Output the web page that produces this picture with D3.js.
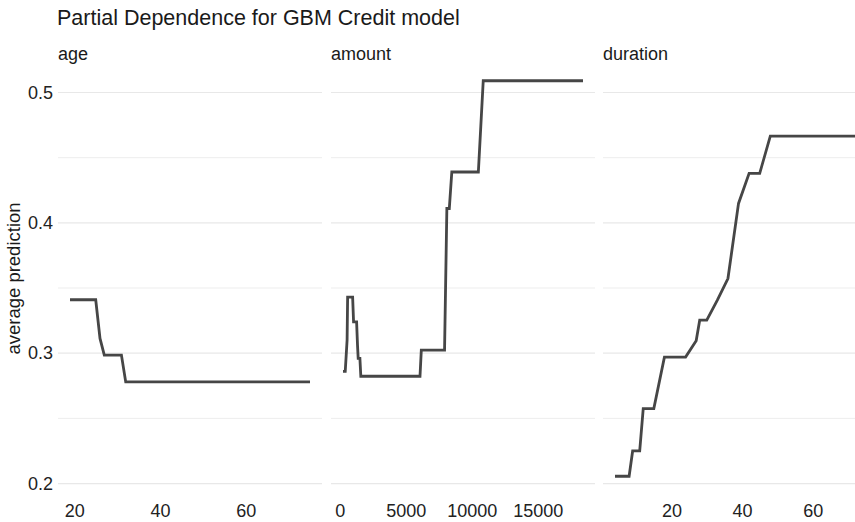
<!DOCTYPE html>
<html>
<head>
<meta charset="utf-8">
<script src="https://cdn.jsdelivr.net/npm/d3@7"></script>
<style>
  body { margin: 0; background: #fff; }
  svg { display: block; font-family: "Liberation Sans", Arial, sans-serif; }
</style>
</head>
<body>
<svg id="chart" width="855" height="522"></svg>
<script>
// partial dependence values
const ageX = [19, 25, 26, 27, 31, 32, 75];
const ageY = [0.341, 0.341, 0.3113, 0.2985, 0.2985, 0.278, 0.278];

const amountX = [250, 420, 560, 600, 980, 1050, 1280, 1350, 1400, 1530, 1600,
  6080, 6180, 7940, 8115, 8300, 8490, 10500, 10870, 18424];
const amountY = [0.286, 0.286, 0.31, 0.343, 0.343, 0.324, 0.324, 0.306, 0.296, 0.296, 0.2823,
  0.2823, 0.3023, 0.3023, 0.411, 0.411, 0.439, 0.439, 0.509, 0.509];

const durationX = [4, 8, 9, 11, 12, 15, 18, 24, 27, 28, 30, 33, 36, 39, 42, 45, 48, 72];
const durationY = [0.2056, 0.2056, 0.225, 0.225, 0.2575, 0.2575, 0.297, 0.297, 0.3095,
  0.3253, 0.3253, 0.3407, 0.3573, 0.4149, 0.438, 0.438, 0.4665, 0.4665];

const panelNames = ["age", "amount", "duration"];
const xTicks = [[20, 40, 60], [0, 5000, 10000, 15000], [20, 40, 60]];
const yTicks = [0.2, 0.3, 0.4, 0.5];
const yMinor = [0.25, 0.35, 0.45];

const panels = [
  { name: panelNames[0], xs: ageX, ys: ageY, ticks: xTicks[0] },
  { name: panelNames[1], xs: amountX, ys: amountY, ticks: xTicks[1] },
  { name: panelNames[2], xs: durationX, ys: durationY, ticks: xTicks[2] },
];

const svg = d3.select("#chart");
const panelW = 264;
const panelLeft = [58, 331, 603];
const panelTop = 61;
const panelBottom = 496;

const expand = (extent) => {
  const pad = (extent[1] - extent[0]) * 0.05;
  return [extent[0] - pad, extent[1] + pad];
};

const allY = [...ageY, ...amountY, ...durationY];
const y = d3.scaleLinear().domain(expand(d3.extent(allY))).range([panelBottom, panelTop]);

svg.append("text")
  .attr("x", 57)
  .attr("y", 25)
  .style("font-size", "21.5px")
  .style("fill", "#1a1a1a")
  .text("Partial Dependence for GBM Credit model");

svg.append("text")
  .attr("transform", `translate(20,${(panelTop + panelBottom) / 2}) rotate(-90)`)
  .attr("text-anchor", "middle")
  .style("font-size", "18.5px")
  .style("fill", "#1a1a1a")
  .text("average prediction");

const yAxis = d3.axisLeft(y).tickValues(yTicks).tickSize(0).tickPadding(5).tickFormat(d3.format(".1f"));
svg.append("g")
  .attr("transform", `translate(${panelLeft[0]},0)`)
  .call(yAxis)
  .call((g) => g.select(".domain").remove())
  .selectAll("text")
  .style("font-size", "18px")
  .style("font-family", "Liberation Sans, Arial, sans-serif")
  .style("fill", "#222");

panels.forEach((p, i) => {
  const x0 = panelLeft[i];
  const x = d3.scaleLinear()
    .domain(expand(d3.extent(p.xs)))
    .range([x0, x0 + panelW]);

  const g = svg.append("g");

  g.selectAll(".minor")
    .data(yMinor)
    .join("line")
    .attr("class", "minor")
    .attr("x1", x0)
    .attr("x2", x0 + panelW)
    .attr("y1", (d) => y(d))
    .attr("y2", (d) => y(d))
    .attr("stroke", "#ededed")
    .attr("stroke-width", 1);

  g.selectAll(".major")
    .data(yTicks)
    .join("line")
    .attr("class", "major")
    .attr("x1", x0)
    .attr("x2", x0 + panelW)
    .attr("y1", (d) => y(d))
    .attr("y2", (d) => y(d))
    .attr("stroke", "#e8e8e8")
    .attr("stroke-width", 1.2);

  g.append("text")
    .attr("x", x0)
    .attr("y", 60)
    .style("font-size", "18px")
    .style("fill", "#1a1a1a")
    .text(p.name);

  const pts = p.xs.map((v, k) => [v, p.ys[k]]);
  g.append("path")
    .datum(pts)
    .attr("fill", "none")
    .attr("stroke", "#464646")
    .attr("stroke-width", 2.8)
    .attr("stroke-linejoin", "miter")
    .attr("d", d3.line().x((d) => x(d[0])).y((d) => y(d[1])));

  g.append("g")
    .attr("transform", `translate(0,${panelBottom})`)
    .call(d3.axisBottom(x).tickValues(p.ticks).tickSize(0).tickPadding(8).tickFormat(d3.format("d")))
    .call((a) => a.select(".domain").remove())
    .selectAll("text")
    .style("font-size", "18px")
    .style("font-family", "Liberation Sans, Arial, sans-serif")
    .style("fill", "#222");
});
</script>
</body>
</html>
